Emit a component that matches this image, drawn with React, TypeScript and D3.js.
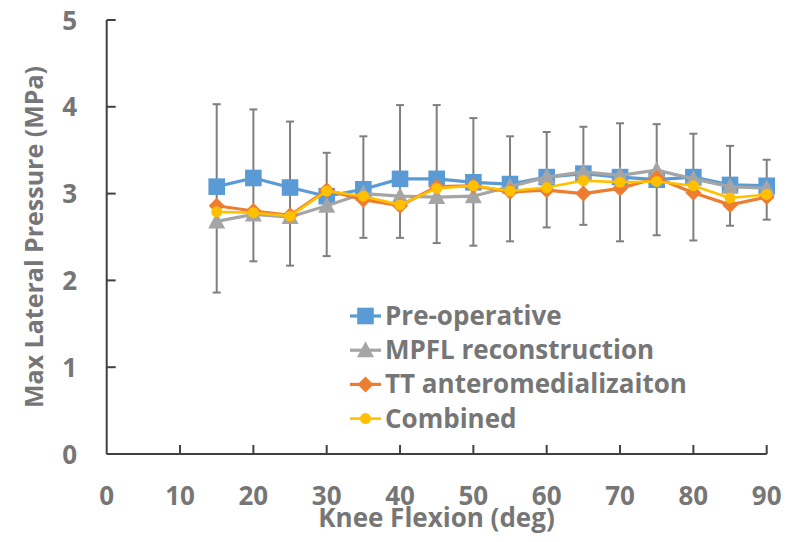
import React from "react";
import * as d3 from "d3";

const angles = [15, 20, 25, 30, 35, 40, 45, 50, 55, 60, 65, 70, 75, 80, 85, 90];
const preOperative = [3.08, 3.18, 3.07, 2.97, 3.05, 3.17, 3.17, 3.13, 3.11, 3.19, 3.23, 3.19, 3.16, 3.19, 3.10, 3.09];
const mpflReconstruction = [2.68, 2.76, 2.73, 2.86, 3.0, 2.97, 2.96, 2.97, 3.08, 3.19, 3.25, 3.21, 3.27, 3.17, 3.08, 3.06];
const ttAnteromedialization = [2.86, 2.8, 2.75, 3.04, 2.93, 2.86, 3.08, 3.09, 3.02, 3.04, 3.0, 3.06, 3.18, 3.01, 2.87, 2.96];
const combined = [2.79, 2.78, 2.74, 3.03, 2.97, 2.87, 3.06, 3.09, 3.03, 3.07, 3.15, 3.13, 3.14, 3.09, 2.95, 2.99];
const errHigh = [4.03, 3.97, 3.83, 3.47, 3.66, 4.02, 4.02, 3.87, 3.66, 3.71, 3.77, 3.81, 3.8, 3.69, 3.55, 3.39];
const errLow = [1.86, 2.22, 2.17, 2.28, 2.49, 2.49, 2.43, 2.4, 2.45, 2.61, 2.64, 2.45, 2.52, 2.46, 2.63, 2.7];

const xTicks = [0, 10, 20, 30, 40, 50, 60, 70, 80, 90];
const yTicks = [0, 1, 2, 3, 4, 5];
const seriesNames = ["Pre-operative", "MPFL reconstruction", "TT anteromedializaiton", "Combined"];
const seriesColors = ["#5B9BD5", "#A5A5A5", "#ED7D31", "#FFC000"];
const seriesShapes = ["square", "triangle", "diamond", "circle"];
const xTitle = "Knee Flexion (deg)";
const yTitle = "Max Lateral Pressure (MPa)";

const W = 787;
const H = 542;
const TEXT = "#767676";
const AXIS = "#404040";
const FONT = "'Open Sans', Lato, sans-serif";

function Marker({ shape, x, y, color }: { shape: string; x: number; y: number; color: string }) {
  if (shape === "square") {
    return <rect x={x - 8.3} y={y - 8.3} width={16.6} height={16.6} fill={color} />;
  }
  if (shape === "triangle") {
    return <path d={`M${x},${y - 9} L${x + 8.5},${y + 7} L${x - 8.5},${y + 7} Z`} fill={color} />;
  }
  if (shape === "diamond") {
    return <path d={`M${x},${y - 8} L${x + 8},${y} L${x},${y + 8} L${x - 8},${y} Z`} fill={color} />;
  }
  return <circle cx={x} cy={y} r={5.5} fill={color} />;
}

export default function App() {
  const x = d3.scaleLinear().domain([0, 90]).range([106.7, 766.7]);
  const y = d3.scaleLinear().domain([0, 5]).range([454, 20]);
  const series = [preOperative, mpflReconstruction, ttAnteromedialization, combined];
  const line = d3
    .line<number>()
    .x((_, i) => x(angles[i]))
    .y((d) => y(d));
  const lineWidths = [3.2, 3.2, 3.2, 2.6];

  return (
    <svg
      width={W}
      height={H}
      style={{ position: "absolute", left: 0, top: 0, background: "#fff" }}
      fontFamily={FONT}
    >
      <rect width={W} height={H} fill="#fff" />
      {/* axes */}
      <line x1={x(0)} x2={x(0)} y1={y(0)} y2={y(5)} stroke={AXIS} strokeWidth={2} />
      <line x1={x(0)} x2={x(90)} y1={y(0)} y2={y(0)} stroke={AXIS} strokeWidth={2} />
      {yTicks.map((t) => (
        <g key={"y" + t}>
          <line x1={x(0)} x2={x(0) + 9} y1={y(t)} y2={y(t)} stroke={AXIS} strokeWidth={2} />
          <text x={77} y={y(t) + 9.5} textAnchor="end" fontSize={26} fontWeight={700} fill={TEXT}>
            {t}
          </text>
        </g>
      ))}
      {xTicks.map((t) => (
        <g key={"x" + t}>
          {t > 0 && (
            <line x1={x(t)} x2={x(t)} y1={y(0)} y2={y(0) - 9} stroke={AXIS} strokeWidth={2} />
          )}
          <text x={x(t)} y={505} textAnchor="middle" fontSize={26} fontWeight={700} fill={TEXT}>
            {t}
          </text>
        </g>
      ))}
      <text x={436.5} y={527} textAnchor="middle" fontSize={26} fontWeight={700} fill={TEXT}>
        {xTitle}
      </text>
      <text
        transform={`translate(43,${(y(0) + y(5)) / 2}) rotate(-90)`}
        textAnchor="middle"
        fontSize={25}
        fontWeight={700}
        fill={TEXT}
      >
        {yTitle}
      </text>

      {/* error bars */}
      {angles.map((a, i) => (
        <g key={"e" + a} stroke="#7F7F7F" strokeWidth={2}>
          <line x1={x(a)} x2={x(a)} y1={y(errLow[i])} y2={y(errHigh[i])} />
          <line x1={x(a) - 4} x2={x(a) + 4} y1={y(errLow[i])} y2={y(errLow[i])} />
          <line x1={x(a) - 4} x2={x(a) + 4} y1={y(errHigh[i])} y2={y(errHigh[i])} />
        </g>
      ))}

      {/* series */}
      {series.map((s, si) => (
        <g key={"s" + si}>
          <path
            d={line(s) || ""}
            fill="none"
            stroke={seriesColors[si]}
            strokeWidth={lineWidths[si]}
            strokeLinejoin="round"
          />
          {s.map((v, i) => (
            <Marker key={i} shape={seriesShapes[si]} x={x(angles[i])} y={y(v)} color={seriesColors[si]} />
          ))}
        </g>
      ))}

      {/* legend */}
      {seriesNames.map((name, i) => {
        const ly = 316 + i * 34.2;
        return (
          <g key={"l" + i}>
            <line x1={350} x2={381} y1={ly} y2={ly} stroke={seriesColors[i]} strokeWidth={lineWidths[i]} />
            <Marker shape={seriesShapes[i]} x={365.5} y={ly} color={seriesColors[i]} />
            <text x={385} y={ly + 9} fontSize={26} fontWeight={700} fill={TEXT}>
              {name}
            </text>
          </g>
        );
      })}
    </svg>
  );
}
